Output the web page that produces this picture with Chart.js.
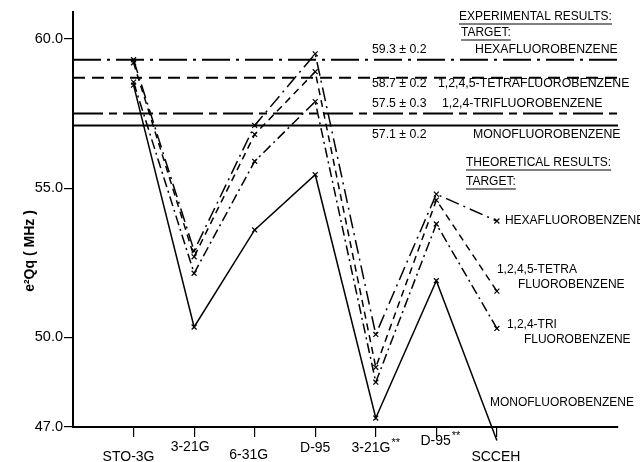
<!DOCTYPE html>
<html>
<head>
<meta charset="utf-8">
<script src="https://cdn.jsdelivr.net/npm/chart.js@4.4.0/dist/chart.umd.min.js"></script>
<style>
  body { margin: 0; background: #fff; }
  #wrap { width: 640px; height: 462px; }
</style>
</head>
<body>
<div id="wrap"><canvas id="chart" width="640" height="462"></canvas></div>
<script>
// ---- Data ----
const basisSets = ['STO-3G', '3-21G', '6-31G', 'D-95', '3-21G**', 'D-95**', 'SCCEH'];
const hexaTheory  = [59.3, 52.9, 57.1, 59.5, 50.1, 54.8, 53.9];
const tetraTheory = [59.2, 52.7, 56.8, 58.9, 49.0, 54.6, 51.55];
const triTheory   = [58.55, 52.15, 55.9, 57.9, 48.5, 53.8, 50.3];
const monoTheory  = [58.45, 50.35, 53.6, 55.45, 47.3, 51.9, 46.55];
const targets = ['HEXAFLUOROBENZENE', '1,2,4,5-TETRAFLUOROBENZENE', '1,2,4-TRIFLUOROBENZENE', 'MONOFLUOROBENZENE'];
const expValues = [59.3, 58.7, 57.5, 57.1];
const expErrors = ['0.2', '0.2', '0.3', '0.2'];
const yTicks = [47.0, 50.0, 55.0, 60.0];
const yTitle = 'e\u00b2Qq ( MHz )';

const FONT = '"Liberation Sans", Arial, sans-serif';
const theoryDash = [[14, 5, 2, 5], [7, 5], [10, 4, 2, 4], []];
const expDash = [[28, 6, 3, 6], [12, 7], [30, 6, 8, 6], []];

function toPoints(vals) {
  return vals.map((v, i) => ({ x: i + 1, y: v }));
}

const expSets = expValues.map((v, i) => ({
  label: 'exp ' + targets[i],
  data: [{ x: 0, y: v }, { x: 9, y: v }],
  borderColor: '#000',
  borderWidth: 2,
  borderDash: expDash[i],
  pointRadius: 0,
  showLine: true
}));

const theorySets = [hexaTheory, tetraTheory, triTheory, monoTheory].map((vals, i) => ({
  label: 'theory ' + targets[i],
  data: toPoints(vals),
  borderColor: '#000',
  borderWidth: 1.5,
  borderDash: theoryDash[i],
  pointStyle: 'crossRot',
  pointRadius: 3.5,
  pointBorderWidth: 1.2,
  pointBorderColor: '#000',
  showLine: true,
  clip: false
}));

// ---- Text drawn onto the plot ----
function underlined(ctx, text, x, y) {
  ctx.fillText(text, x, y);
  const w = ctx.measureText(text).width;
  ctx.beginPath();
  ctx.moveTo(x, y + 7);
  ctx.lineTo(x + w, y + 7);
  ctx.lineWidth = 1;
  ctx.stroke();
}

const textPlugin = {
  id: 'textPlugin',
  afterDraw(chart) {
    const ctx = chart.ctx;
    const xs = chart.scales.x, ys = chart.scales.y;
    ctx.save();
    ctx.fillStyle = '#000';
    ctx.strokeStyle = '#000';
    ctx.textBaseline = 'middle';
    ctx.textAlign = 'left';

    // staggered category labels
    const drop = [30, 20, 28, 21, 21, 14, 30];
    const shift = [-5, -4, -6, 0, 0, 4, -1];
    basisSets.forEach((name, i) => {
      const base = name.replace(/\*+$/, '');
      const stars = name.slice(base.length);
      const cx = xs.getPixelForValue(i + 1) + shift[i];
      const cy = xs.top + drop[i];
      ctx.font = '14px ' + FONT;
      const w1 = ctx.measureText(base).width;
      ctx.font = '11px ' + FONT;
      const w2 = stars ? ctx.measureText(stars).width + 1 : 0;
      const x0 = cx - (w1 + w2) / 2;
      ctx.font = '14px ' + FONT;
      ctx.fillText(base, x0, cy);
      if (stars) {
        ctx.font = '11px ' + FONT;
        ctx.fillText(stars, x0 + w1 + 1, cy - 5);
      }
    });

    // y axis title, sitting a little below the middle like the original
    ctx.save();
    ctx.translate(30, 251);
    ctx.rotate(-Math.PI / 2);
    ctx.textAlign = 'center';
    ctx.font = 'bold 14px ' + FONT;
    ctx.fillText(yTitle, 0, 0);
    ctx.restore();

    // experimental block
    ctx.font = '12px ' + FONT;
    underlined(ctx, 'EXPERIMENTAL RESULTS:', 459, 17);
    underlined(ctx, 'TARGET:', 461, 33);
    ctx.font = '12.3px ' + FONT;
    const rowOff = [-10, 6, -10, 9];
    const nameX = [475, 438, 442, 473];
    expValues.forEach((v, i) => {
      const y = ys.getPixelForValue(v) + rowOff[i];
      ctx.fillText(v.toFixed(1) + ' \u00b1 ' + expErrors[i], 372, y);
      ctx.fillText(targets[i], nameX[i], y);
    });

    // theoretical block
    ctx.font = '12px ' + FONT;
    underlined(ctx, 'THEORETICAL RESULTS:', 466, 163);
    underlined(ctx, 'TARGET:', 466, 182);
    ctx.font = '12px ' + FONT;
    const last = basisSets.length - 1;
    const px = xs.getPixelForValue(last + 1);
    const yh = ys.getPixelForValue(hexaTheory[last]);
    const yt = ys.getPixelForValue(tetraTheory[last]);
    const yr = ys.getPixelForValue(triTheory[last]);
    const ym = ys.getPixelForValue(monoTheory[last]);
    ctx.fillText('HEXAFLUOROBENZENE', px + 8, yh);
    ctx.fillText('1,2,4,5-TETRA', px, yt - 21);
    ctx.fillText('FLUOROBENZENE', px + 21, yt - 6);
    ctx.fillText('1,2,4-TRI', px + 10, yr - 4);
    ctx.fillText('FLUOROBENZENE', px + 27, yr + 11);
    ctx.fillText('MONOFLUOROBENZENE', px - 7, ym - 38);
    ctx.restore();
  }
};

// ---- Chart ----
new Chart(document.getElementById('chart'), {
  type: 'scatter',
  data: { datasets: [...theorySets, ...expSets] },
  plugins: [textPlugin],
  options: {
    responsive: false,
    animation: false,
    layout: { padding: { top: 12, right: 22, bottom: 0, left: 0 } },
    plugins: { legend: { display: false }, tooltip: { enabled: false } },
    scales: {
      x: {
        type: 'linear',
        min: 0,
        max: 9,
        afterBuildTicks: s => { s.ticks = basisSets.map((b, i) => ({ value: i + 1 })); },
        afterFit: s => { s.height = 35; },
        ticks: { display: false },
        grid: { display: true, drawOnChartArea: false, drawTicks: true, tickLength: 10, color: '#000', lineWidth: 1.2 },
        border: { display: true, color: '#000', width: 2 }
      },
      y: {
        type: 'linear',
        min: 47,
        max: 60.9,
        afterBuildTicks: s => { s.ticks = yTicks.map(v => ({ value: v })); },
        afterFit: s => { s.width = 73; },
        ticks: {
          color: '#000',
          padding: 1,
          font: { family: FONT, size: 14.5 },
          callback: v => Number(v).toFixed(1)
        },
        grid: { display: true, drawOnChartArea: false, drawTicks: true, tickLength: 9, color: '#000', lineWidth: 1.2 },
        border: { display: true, color: '#000', width: 2 },
        title: { display: false }
      }
    }
  }
});
</script>
</body>
</html>
